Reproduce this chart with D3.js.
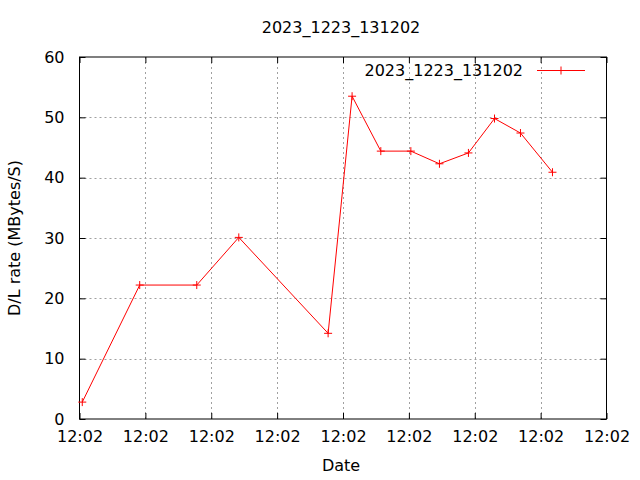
<!DOCTYPE html>
<html><head><meta charset="utf-8">
<script src="https://cdn.jsdelivr.net/npm/d3@7"></script>
<style>body{margin:0;background:#fff}svg{display:block}text{font-family:"DejaVu Sans",sans-serif;fill:#000}</style>
</head><body>
<script>
const title = "2023_1223_131202";
const seriesName = "2023_1223_131202";
// seconds after 12:02:00
const timesSec = [0.21, 4.57, 8.90, 12.09, 18.87, 20.69, 22.87, 25.15, 27.32, 29.52, 31.50, 33.47, 35.90];
const rates = [2.8, 22.2, 22.2, 30.1, 14.2, 53.5, 44.4, 44.4, 42.3, 44.1, 49.8, 47.4, 40.9];
const yTicks = [0, 10, 20, 30, 40, 50, 60];
const xTickSec = [0, 5, 10, 15, 20, 25, 30, 35, 40];

const base = new Date(2023, 11, 23, 12, 2, 0);
const toDate = s => new Date(base.getTime() + s * 1000);
const data = timesSec.map((t, i) => ({t: toDate(t), v: rates[i]}));

const W = 640, H = 480;
const m = {l: 79.5, r: 606.5, t: 57, b: 419};
const svg = d3.select("body").append("svg").attr("width", W).attr("height", H);

const x = d3.scaleTime().domain([toDate(0), toDate(40)]).range([m.l, m.r]);
const y = d3.scaleLinear().domain([0, 60]).range([m.b, m.t]);
const xT = xTickSec.map(toDate);
const fmt = d3.timeFormat("%H:%M");

// grid
const g = svg.append("g").attr("stroke", "#a0a0a0").attr("stroke-width", 1).attr("stroke-dasharray", "2,3");
g.selectAll(".gx").data(xT.slice(1, -1)).join("line")
  .attr("x1", d => Math.round(x(d)) + 0.5).attr("x2", d => Math.round(x(d)) + 0.5)
  .attr("y1", m.t).attr("y2", m.b);
g.selectAll(".gy").data(yTicks.slice(1, -1)).join("line")
  .attr("y1", d => Math.round(y(d)) + 0.5).attr("y2", d => Math.round(y(d)) + 0.5)
  .attr("x1", m.l).attr("x2", m.r);

// axes with inward ticks
const tl = 6;
const axB = svg.append("g").attr("transform", `translate(0,${m.b})`)
  .call(d3.axisBottom(x).tickValues(xT).tickFormat(fmt).tickSizeInner(-tl).tickSizeOuter(0).tickPadding(12));
const axT = svg.append("g").attr("transform", `translate(0,${m.t})`)
  .call(d3.axisTop(x).tickValues(xT).tickFormat("").tickSizeInner(-tl).tickSizeOuter(0));
const axL = svg.append("g").attr("transform", `translate(${m.l},0)`)
  .call(d3.axisLeft(y).tickValues(yTicks).tickSizeInner(-tl).tickSizeOuter(0).tickPadding(15));
const axR = svg.append("g").attr("transform", `translate(${m.r},0)`)
  .call(d3.axisRight(y).tickValues(yTicks).tickFormat("").tickSizeInner(-tl).tickSizeOuter(0));
[axB, axT, axL, axR].forEach(a => {
  a.select(".domain").remove();
  a.selectAll("line").attr("stroke", "#000");
  a.selectAll("text").attr("font-size", 16).attr("font-family", "DejaVu Sans, sans-serif").attr("fill", "#000");
});
axB.selectAll("text").attr("dy", "0.71em");
svg.append("rect").attr("x", m.l).attr("y", m.t).attr("width", m.r - m.l).attr("height", m.b - m.t)
  .attr("fill", "none").attr("stroke", "#000").attr("stroke-width", 1);

// line
const line = d3.line().x(d => x(d.t)).y(d => y(d.v));
svg.append("path").datum(data).attr("d", line).attr("fill", "none").attr("stroke", "#ff0000").attr("stroke-width", 1);
const ps = 4;
const plus = (sel) => sel.append("path")
  .attr("d", d => `M${x(d.t) - ps},${y(d.v)}h${2 * ps}M${x(d.t)},${y(d.v) - ps}v${2 * ps}`)
  .attr("stroke", "#ff0000").attr("stroke-width", 1).attr("fill", "none");
svg.append("g").selectAll("g").data(data).join("g").call(plus);

// legend
svg.append("text").attr("x", 523).attr("y", 70).attr("dy", "0.35em").attr("text-anchor", "end")
  .attr("font-size", 16).text(seriesName);
svg.append("line").attr("x1", 537).attr("x2", 585).attr("y1", 70.5).attr("y2", 70.5).attr("stroke", "#ff0000");
svg.append("path").attr("d", `M${561 - ps},70.5h${2 * ps}M561,${70.5 - ps}v${2 * ps}`).attr("stroke", "#ff0000");

// titles
svg.append("text").attr("x", 341).attr("y", 27).attr("dy", "0.35em").attr("text-anchor", "middle").attr("font-size", 16).text(title);
svg.append("text").attr("x", 341).attr("y", 465).attr("dy", "0.35em").attr("text-anchor", "middle").attr("font-size", 16).text("Date");
svg.append("text").attr("transform", "translate(14,238) rotate(-90)").attr("dy", "0.35em").attr("text-anchor", "middle").attr("font-size", 16).text("D/L rate (MBytes/S)");
</script>
</body></html>
